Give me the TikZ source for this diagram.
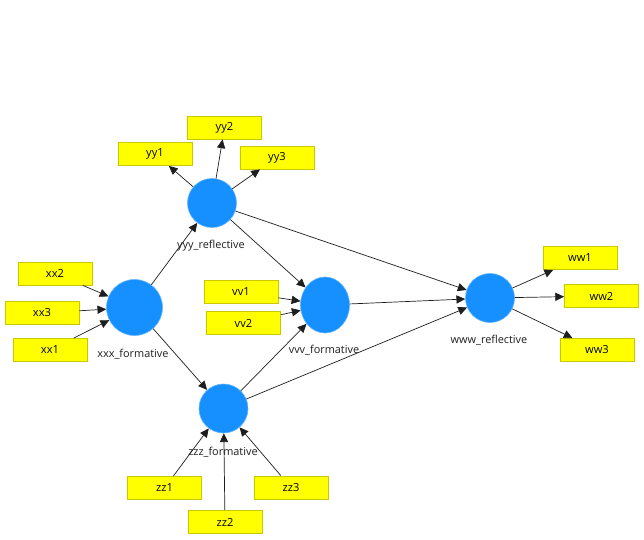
\documentclass[tikz,border=0pt]{standalone}
\usepackage{fontspec}
\setmainfont{Open Sans}
\usetikzlibrary{arrows.meta,shapes.geometric}
\definecolor{lv}{RGB}{22,144,255}
\definecolor{lvrim}{RGB}{100,180,255}
\definecolor{mv}{RGB}{255,255,0}
\definecolor{mvrim}{RGB}{200,200,0}
\definecolor{ink}{RGB}{30,30,30}

\begin{document}
\begin{tikzpicture}[x=0.03cm, y=-0.03cm,
    LV/.style={circle, draw=lvrim, fill=lv, line width=0.5pt,
              minimum size=1.47cm, inner sep=0pt},
    MV/.style={rectangle, draw=mvrim, fill=mv, line width=0.7pt,
              minimum width=2.22cm, minimum height=0.69cm, inner sep=0pt,
              font=\fontsize{9.5}{11}\selectfont},
    lab/.style={font=\fontsize{9.3}{11}\selectfont, color=ink},
    arr/.style={-{Triangle[length=7.5pt,width=7pt]}, draw=ink, line width=0.6pt}]
  \useasboundingbox (0,0) rectangle (644,540);

  % ---------- latent variables ---------------------------------------------
  \node[LV, minimum size=1.68cm] (xxx) at (134.5,307.5) {};
  \node[LV] (yyy) at (212,203) {};
  \node[LV, ellipse, minimum width=1.47cm, minimum height=1.68cm] (vvv) at (325,305) {};
  \node[LV] (www) at (490,298) {};
  \node[LV] (zzz) at (223.5,408.5) {};

  \node[lab] (xxxl) at (133,354) {xxx\_formative};
  \node[lab] (yyyl) at (211,246) {yyy\_reflective};
  \node[lab] (vvvl) at (324,350) {vvv\_formative};
  \node[lab] (wwwl) at (489,340) {www\_reflective};
  \node[lab] (zzzl) at (223,452) {zzz\_formative};

  \foreach \a/\b in {xxx/yyy, xxx/zzz, yyy/vvv, yyy/www, zzz/vvv, zzz/www, vvv/www}
    { \draw[arr] (\a) -- (\b); }

  % ---------- formative indicators: box -> latent ---------------------------
  \foreach \n/\x/\y in {xx2/55/273.5, xx3/42/313, xx1/50/350}
    { \node[MV] (\n) at (\x,\y) {\n}; \draw[arr] (\n) -- (xxx); }
  \foreach \n/\x/\y in {vv1/241/292, vv2/243.5/323}
    { \node[MV] (\n) at (\x,\y) {\n}; \draw[arr] (\n) -- (vvv); }
  \foreach \n/\x/\y in {zz1/164.5/488, zz2/225/522, zz3/291/487.5}
    { \node[MV] (\n) at (\x,\y) {\n}; \draw[arr] (\n) -- (zzz); }

  % ---------- reflective indicators: latent -> box --------------------------
  \foreach \n/\x/\y in {yy1/155/154, yy2/224.5/127.5, yy3/277/157.5}
    { \node[MV] (\n) at (\x,\y) {\n}; \draw[arr] (yyy) -- (\n); }
  \foreach \n/\x/\y in {ww1/580/258, ww2/601.5/296, ww3/597/350}
    { \node[MV] (\n) at (\x,\y) {\n}; \draw[arr] (www) -- (\n); }
\end{tikzpicture}
\end{document}
